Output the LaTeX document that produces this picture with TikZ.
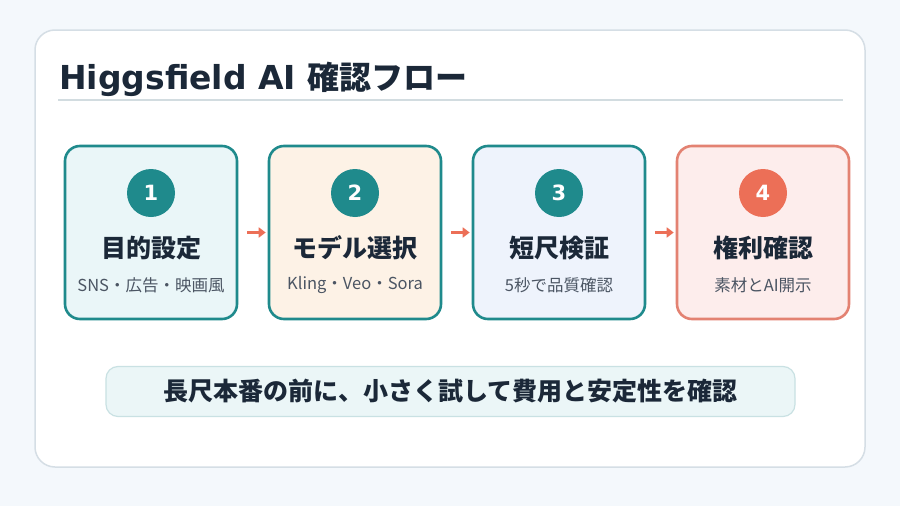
\documentclass[tikz,border=0pt]{standalone}
\usepackage{fontspec}
\setmainfont{Noto Sans CJK JP}
\newfontfamily\latinbold{DejaVu Sans Bold}
\usetikzlibrary{arrows.meta}
\definecolor{page}{HTML}{F4F8FC}
\definecolor{cardline}{HTML}{D5DEE5}
\definecolor{rule}{HTML}{D2DCE0}
\definecolor{teal}{HTML}{1F8A8C}
\definecolor{coral}{HTML}{EC6F57}
\definecolor{coralline}{HTML}{E38272}
\definecolor{navy}{HTML}{1B2838}
\definecolor{note}{HTML}{4B5563}
\definecolor{fillA}{HTML}{EAF6F8}
\definecolor{fillB}{HTML}{FDF2E6}
\definecolor{fillC}{HTML}{EEF3FC}
\definecolor{fillD}{HTML}{FDEDEC}
\definecolor{bannerfill}{HTML}{EBF6F7}
\definecolor{bannerline}{HTML}{C9E1E3}

\tikzset{
  stepbox/.style={draw, line width=2.6pt, rounded corners=15pt,
    minimum width=172pt, minimum height=173pt},
  numdot/.style={circle, minimum size=48pt, inner sep=0pt, text=white,
    font=\latinbold\fontsize{21}{21}\selectfont},
  steptitle/.style={text=navy, font=\bfseries\fontsize{25}{28}\selectfont},
  stepnote/.style={text=note, font=\fontsize{16.5}{19}\selectfont},
  flowarrow/.style={draw=coral, line width=2.6pt,
    -{Triangle[length=7pt,width=10pt]}, shorten <=9pt, shorten >=2pt},
}

\begin{document}
\begin{tikzpicture}[x=1pt, y=-1pt]
  \fill[page] (0, 0) rectangle (900, 506);
  \useasboundingbox (0, 0) rectangle (900, 506);

  \draw[cardline, line width=1.5pt, fill=white, rounded corners=20pt]
    (35, 30) rectangle (865, 467);
  \node[anchor=base west, text=navy, inner sep=0pt] (title) at (59, 89)
    {{\latinbold\fontsize{33}{36}\selectfont Higgsfield AI\ }\bfseries\fontsize{32}{34}\selectfont 確認フロー};
  \draw[rule, line width=1.5pt] (58, 100) -- (843, 100);

  \foreach \i/\fillc/\linec/\dotc/\head/\sub in {
      1/fillA/teal/teal/目的設定/SNS・広告・映画風,
      2/fillB/teal/teal/モデル選択/Kling・Veo・Sora,
      3/fillC/teal/teal/短尺検証/5秒で品質確認,
      4/fillD/coralline/coral/権利確認/素材とAI開示} {
    \node[stepbox, draw=\linec, fill=\fillc] (s\i) at ({151 + 204*(\i-1)}, 232.5) {};
    \node[numdot, fill=\dotc] (c\i) at ({151 + 204*(\i-1)}, 193) {\i};
    \node[steptitle] (t\i) at ({151 + 204*(\i-1)}, 248) {\head};
    \node[stepnote] (n\i) at ({151 + 204*(\i-1)}, 285) {\sub};
  }

  \foreach \a/\b in {1/2, 2/3, 3/4}
    \draw[flowarrow] (s\a) -- (s\b);

  \node[draw=bannerline, line width=1.2pt, fill=bannerfill, rounded corners=12pt,
    minimum width=689pt, minimum height=50pt, text=navy,
    font=\bfseries\fontsize{25}{28}\selectfont] (banner) at (450.5, 391.5)
    {長尺本番の前に、小さく試して費用と安定性を確認};
\end{tikzpicture}
\end{document}
